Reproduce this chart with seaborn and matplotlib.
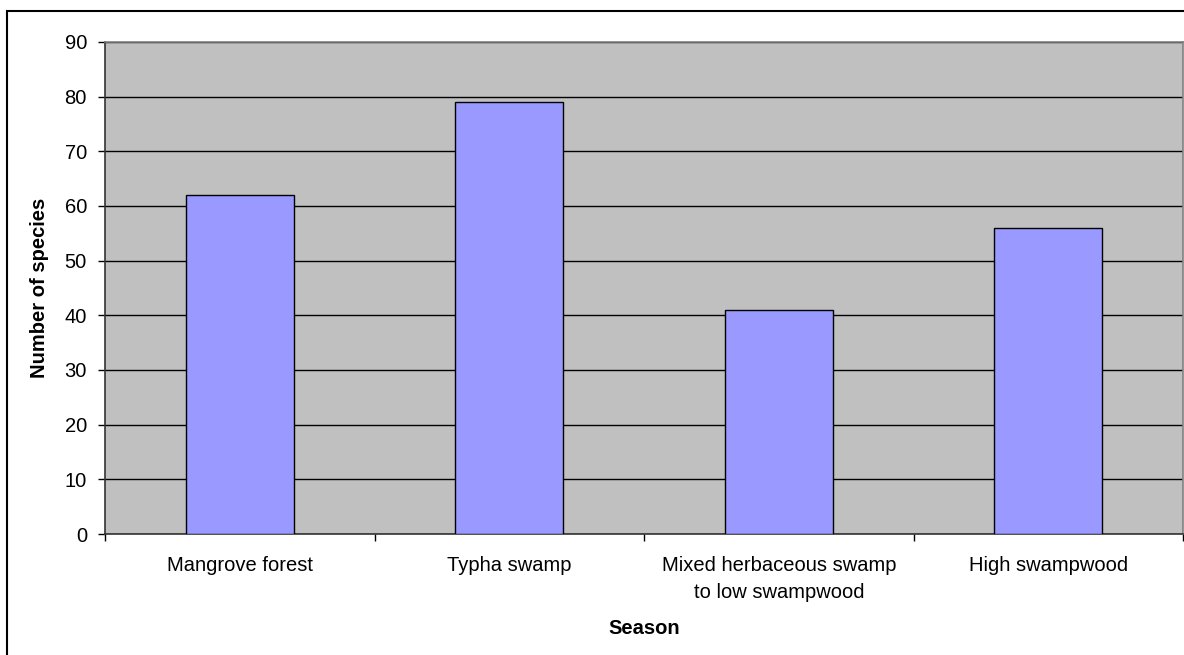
import matplotlib
matplotlib.use("Agg")
import matplotlib.pyplot as plt
from matplotlib.patches import Rectangle
from matplotlib.ticker import FixedLocator
import seaborn as sns

# Species counts per habitat type
categories = ["Mangrove forest", "Typha swamp",
              "Mixed herbaceous swamp\nto low swampwood", "High swampwood"]
species = [62, 79, 41, 56]
y_ticks = [0, 10, 20, 30, 40, 50, 60, 70, 80, 90]

sns.set_style("white")
plt.rcParams["font.family"] = ["Liberation Sans", "DejaVu Sans"]
plt.rcParams["text.color"] = "black"
plt.rcParams["xtick.color"] = "black"
plt.rcParams["ytick.color"] = "black"
plt.rcParams["axes.labelcolor"] = "black"

FS = 14.5

W, H = 1184, 655
fig = plt.figure(figsize=(W / 100, H / 100), dpi=100)
fig.patch.set_facecolor("white")

# chart-area frame
fig.add_artist(Rectangle((7 / W, -0.1), 1.2, 1 - 11 / H + 0.1,
                         transform=fig.transFigure, fill=False,
                         edgecolor="black", linewidth=1.5, clip_on=False))

left, right, top, bottom = 105, 1183, 42, 534
ax = fig.add_axes([left / W, 1 - bottom / H, (right - left) / W, (bottom - top) / H])
ax.set_facecolor("#C0C0C0")

sns.barplot(x=categories, y=species, color="#9999FF", saturation=1,
            width=0.4, edgecolor="black", linewidth=1, ax=ax, zorder=3)

ax.set_xlim(-0.5, len(categories) - 0.5)
ax.set_ylim(0, 90)
ax.set_yticks(y_ticks)
ax.yaxis.grid(True, color="black", linewidth=1, zorder=1)
ax.set_axisbelow(True)

# category boundaries carry the tick marks, centers carry the labels
ax.xaxis.set_minor_locator(FixedLocator([i - 0.5 for i in range(len(categories) + 1)]))
ax.tick_params(axis="x", which="major", length=0, pad=16, labelsize=FS, labelcolor="black")
ax.tick_params(axis="x", which="minor", length=5, width=1, color="black", direction="out", bottom=True)
ax.tick_params(axis="y", which="major", length=5, width=1, color="black", direction="out",
               left=True, pad=8, labelsize=FS, labelcolor="black")
for lbl in ax.get_xticklabels():
    lbl.set_linespacing(1.55)
    lbl.set_multialignment("center")

for side in ["left", "bottom"]:
    ax.spines[side].set_color("#333333")
    ax.spines[side].set_linewidth(1.2)
for side in ["top", "right"]:
    ax.spines[side].set_color("#808080")
    ax.spines[side].set_linewidth(1.2)
    ax.spines[side].set_visible(True)

ax.set_xlabel("Season", fontsize=FS, fontweight="bold", labelpad=12, color="black")
ax.set_ylabel("Number of species", fontsize=FS, fontweight="bold", labelpad=11, color="black")

fig.savefig("out.png", dpi=100, facecolor="white")
